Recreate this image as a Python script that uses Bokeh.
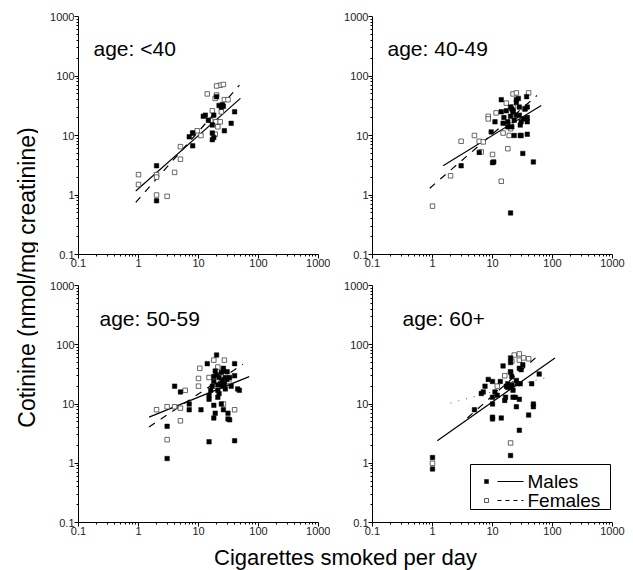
import math
from bokeh.plotting import figure
from bokeh.layouts import column, row
from bokeh.models import FixedTicker, Label, BoxAnnotation, Arrow
from bokeh.embed import file_html
from bokeh.resources import INLINE

FONT = "Liberation Sans"

# ---------------- data ----------------
TICKS = [0.1, 1, 10, 100, 1000]
TICK_LABELS = ["0.1", "1", "10", "100", "1000"]
MINOR_TICKS = [m * 10.0 ** e for e in range(-1, 3) for m in range(2, 10)]

PANEL_TITLES = ["age: <40", "age: 40-49", "age: 50-59", "age: 60+"]
X_LABEL = "Cigarettes smoked per day"
Y_LABEL = "Cotinine (nmol/mg creatinine)"
LEGEND_LABELS = ["Males", "Females"]

# age <40
p1_male_x = [2, 2, 7, 8, 8, 12, 13, 14.6, 17, 17, 17, 18, 18, 20, 22, 24, 25, 26, 27, 35, 40]
p1_male_y = [3.1, 0.8, 9.5, 6.7, 11, 21, 22, 18, 15, 11, 8.5, 9.3, 22, 45, 32, 30, 33, 31, 12, 16, 25]
p1_female_x = [1, 1, 2, 2, 2, 3, 4, 5, 5, 8, 9.5, 11, 14, 16, 17, 19, 20, 19.5, 21, 23, 26, 24, 27, 31, 19, 23, 20]
p1_female_y = [2.2, 1.5, 2.2, 2.0, 1.0, 0.95, 2.4, 4, 6.5, 11, 12, 10, 50, 18, 26, 42, 48, 17, 14, 70, 72, 25, 40, 40, 10.5, 17, 68]
p1_male_fit_x = [0.9, 50]
p1_male_fit_y = [1.17, 42]
p1_female_fit_x = [0.9, 48]
p1_female_fit_y = [0.75, 70]

# age 40-49
p2_male_x = [3, 6, 10, 10.5, 20, 9.5, 11, 14, 14, 15, 15.5, 17, 18, 18, 20, 20, 21, 22, 25, 23, 25, 25, 27,
             28, 28, 29, 30, 29, 30, 32, 33, 35, 37, 38, 38, 38, 38, 48, 22, 23, 21]
p2_male_y = [3.1, 5.2, 3.5, 3.6, 0.5, 11.5, 17, 40, 25, 16, 20, 26, 17, 14, 30, 21, 28, 25, 36, 18, 22, 40, 42,
             30, 22, 15, 17, 10, 10, 5, 19, 28, 45, 30, 20, 17, 10.5, 3.6, 26, 10, 14]
p2_female_x = [1, 2, 3, 5, 6, 6.5, 7, 10, 8.5, 8.5, 11.5, 14, 15, 18, 17, 19, 20, 20, 22, 25, 24, 22, 40, 34]
p2_female_y = [0.65, 2.1, 8, 10, 8, 5.3, 7.8, 4.8, 21, 19, 24, 1.7, 11, 6, 35, 10, 13, 15, 50, 52, 21, 30, 52, 28]
p2_male_fit_x = [1.5, 65]
p2_male_fit_y = [3.1, 32]
p2_female_fit_x = [0.9, 55]
p2_female_fit_y = [1.3, 47]

# age 50-59
p3_male_x = [3, 3, 4, 5, 7, 7, 11, 15, 15, 15, 14, 18, 18, 19, 20, 21, 21, 21, 22, 24, 24, 26, 26, 27, 28,
             30, 31, 31, 33, 35, 40, 40, 40, 45, 48, 17, 18, 23, 25, 16, 19, 26, 30, 33, 18, 22, 28, 25, 20]
p3_male_y = [1.2, 4.2, 20, 16, 10, 8, 8, 2.3, 14, 12, 48, 5.8, 9.5, 7, 67, 17, 13, 21, 28, 34, 10, 8, 36, 22, 28,
             35, 7, 5.6, 5.4, 20, 2.4, 48, 30, 18, 17, 20, 24, 22, 20, 17, 36, 40, 26, 28, 29, 15, 18, 25, 31]
p3_female_x = [2, 3, 3, 4, 5, 5, 6, 10, 10, 10.5, 15, 18, 27, 26, 40, 21, 32]
p3_female_y = [8, 9, 2.5, 9, 8.5, 5.2, 17, 20, 27, 40, 28, 55, 55, 10, 8, 42, 24]
p3_male_fit_x = [1.5, 70]
p3_male_fit_y = [6, 29]
p3_female_fit_x = [1.5, 55]
p3_female_fit_y = [4.1, 47]

# age 60+
p4_male_x = [1, 1, 5, 6.5, 7, 7.5, 8.5, 10, 10, 10, 10, 10, 11, 12, 13.5, 14, 15, 16, 16.5, 17, 18, 18, 20, 20,
             20, 21, 21, 22, 22, 24, 25, 25, 26, 28, 28, 28, 29, 30, 32, 40, 45, 48, 48, 60, 20, 21]
p4_male_y = [1.25, 0.8, 8, 15, 16, 20, 26, 24, 13, 10, 6, 5.6, 16, 14, 24, 5.8, 44, 11.5, 13, 20, 19, 22, 60, 50,
             1.35, 29, 20, 17, 13, 13, 25, 9, 22, 40, 12, 3.6, 22, 38, 46, 6.5, 22, 10, 9, 32, 35, 21]
p4_female_x = [1, 20, 23, 28, 28, 33, 40, 12, 20, 23, 16, 21]
p4_female_y = [1.0, 2.2, 67, 70, 55, 60, 58, 20, 34, 22, 30, 53]
p4_male_fit_x = [1.2, 110]
p4_male_fit_y = [2.4, 60]
p4_female_fit_x = [3.8, 52]
p4_female_fit_y = [5.8, 60]
p4_dotted_fit_x = [2, 85]
p4_dotted_fit_y = [10.4, 28.5]

PANELS = [
    (p1_male_x, p1_male_y, p1_female_x, p1_female_y, p1_male_fit_x, p1_male_fit_y, p1_female_fit_x, p1_female_fit_y),
    (p2_male_x, p2_male_y, p2_female_x, p2_female_y, p2_male_fit_x, p2_male_fit_y, p2_female_fit_x, p2_female_fit_y),
    (p3_male_x, p3_male_y, p3_female_x, p3_female_y, p3_male_fit_x, p3_male_fit_y, p3_female_fit_x, p3_female_fit_y),
    (p4_male_x, p4_male_y, p4_female_x, p4_female_y, p4_male_fit_x, p4_male_fit_y, p4_female_fit_x, p4_female_fit_y),
]

# ---------------- layout geometry ----------------
YLAB_W = 38
ROW0_H = 276
ROW1_H = 266
XLAB_H = 570 - ROW0_H - ROW1_H
LEFT_W = 292
RIGHT_W = 633 - YLAB_W - LEFT_W
# (width, height, border left, right, top, bottom, title x offset, title baseline from frame top)
GEOM = [
    (LEFT_W, ROW0_H, 40, 12, 16, 22, 15, 32),
    (RIGHT_W, ROW0_H, 42, 21, 16, 22, 15, 32),
    (LEFT_W, ROW1_H, 40, 12, 9, 20, 21, 33),
    (RIGHT_W, ROW1_H, 42, 21, 9, 20, 30, 33),
]


def make_panel(idx):
    w, h, bl, br, bt, bb, tx, tb = GEOM[idx]
    mx, my, fx, fy, mfx, mfy, ffx, ffy = PANELS[idx]
    p = figure(width=w, height=h, x_axis_type="log", y_axis_type="log",
               x_range=(0.1, 1000), y_range=(0.1, 1000),
               output_backend="svg", toolbar_location=None,
               min_border_left=bl, min_border_right=br,
               min_border_top=bt, min_border_bottom=bb)
    p.outline_line_color = None
    p.xgrid.visible = False
    p.ygrid.visible = False
    p.background_fill_color = "white"
    p.border_fill_color = "white"
    for ax in (p.xaxis[0], p.yaxis[0]):
        ax.ticker = FixedTicker(ticks=TICKS, minor_ticks=MINOR_TICKS)
        ax.major_label_overrides = dict(zip(TICKS, TICK_LABELS))
        ax.axis_line_color = "black"
        ax.axis_line_width = 1
        ax.major_tick_in = 0
        ax.major_tick_out = 4
        ax.minor_tick_in = 0
        ax.minor_tick_out = 2
        ax.major_tick_line_color = "black"
        ax.minor_tick_line_color = "black"
        ax.major_label_text_font = FONT
        ax.major_label_text_font_size = "11px"
        ax.major_label_text_color = "#222222"
        ax.major_label_standoff = 0

    p.line(mfx, mfy, line_color="black", line_width=1.2)
    p.line(ffx, ffy, line_color="black", line_width=1.2, line_dash="7 7")
    if idx == 3:
        p.line(p4_dotted_fit_x, p4_dotted_fit_y, line_color="#555555", line_width=1, line_dash="1 7")
    p.scatter(fx, fy, marker="square", size=4.5, fill_color="white", line_color="#444444", line_width=0.8)
    p.scatter(mx, my, marker="square", size=4.5, fill_color="black", line_color="black", line_width=0.5)

    frame_h = h - bt - bb
    p.add_layout(Label(x=tx, y=frame_h - tb, x_units="screen", y_units="screen", text=PANEL_TITLES[idx],
                       text_font=FONT, text_font_size="21px", text_color="black",
                       text_baseline="alphabetic", text_align="left"))

    if idx == 3:
        p.add_layout(BoxAnnotation(left=98, right=238, bottom=13, top=58,
                                   left_units="screen", right_units="screen",
                                   bottom_units="screen", top_units="screen",
                                   fill_color="white", fill_alpha=1.0,
                                   line_color="black", line_alpha=1.0, line_width=1))
        for k, (yy, fill, dash) in enumerate([(41, "black", "solid"), (22, "white", "4 4")]):
            p.add_layout(BoxAnnotation(left=112, right=116, bottom=yy - 2, top=yy + 2,
                                       left_units="screen", right_units="screen",
                                       bottom_units="screen", top_units="screen",
                                       fill_color=fill, fill_alpha=1.0,
                                       line_color="#333333", line_alpha=1.0, line_width=0.8))
            p.add_layout(Arrow(start=None, end=None, x_start=125, y_start=yy, x_end=151, y_end=yy,
                               start_units="screen", end_units="screen",
                               line_color="black", line_width=1.2, line_dash=dash))
            p.add_layout(Label(x=155, y=yy, x_units="screen", y_units="screen", text=LEGEND_LABELS[k],
                               text_font=FONT, text_font_size="19px", text_color="black",
                               text_baseline="middle", text_align="left"))
    return p


panels = [make_panel(i) for i in range(4)]

ylab = figure(width=YLAB_W, height=ROW0_H + ROW1_H, output_backend="svg", toolbar_location=None,
              x_axis_location=None, y_axis_location=None, min_border=0)
ylab.outline_line_color = None
ylab.xgrid.visible = False
ylab.ygrid.visible = False
ylab.add_layout(Label(x=26, y=(ROW0_H + ROW1_H) - 277, x_units="screen", y_units="screen",
                      text=Y_LABEL, angle=math.pi / 2, text_font=FONT, text_font_size="23px",
                      text_align="center", text_baseline="middle", text_color="black"))

xlab = figure(width=633, height=XLAB_H, output_backend="svg", toolbar_location=None,
              x_axis_location=None, y_axis_location=None, min_border=0)
xlab.outline_line_color = None
xlab.xgrid.visible = False
xlab.ygrid.visible = False
xlab.add_layout(Label(x=345, y=1, x_units="screen", y_units="screen", text=X_LABEL,
                      text_font=FONT, text_font_size="22px", text_align="center",
                      text_baseline="bottom", text_color="black"))

layout = column(row(ylab, column(row(panels[0], panels[1]), row(panels[2], panels[3]))), xlab)

open("out.html", "w").write(file_html(layout, INLINE))
